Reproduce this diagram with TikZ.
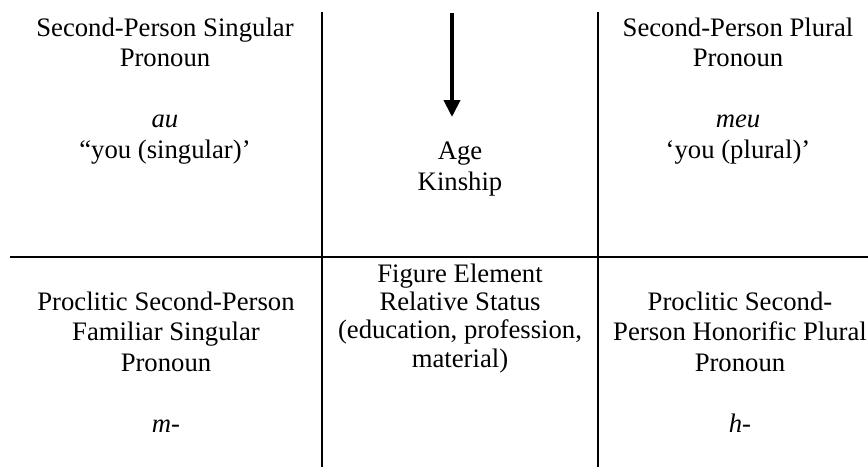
\documentclass[tikz,border=0pt]{standalone}
\usepackage{fontspec}
\setmainfont{Liberation Serif}
\usetikzlibrary{arrows.meta}
\begin{document}
\begin{tikzpicture}[x=1pt,y=-1pt,
  rule/.style={line width=2pt},
  bigarrow/.style={line width=4pt,-{Triangle[length=17pt,width=16pt]}},
  celltext/.style={align=center,anchor=base,inner sep=0pt,font=\fontsize{26.7}{30.5}\selectfont},
  midtext/.style={align=center,anchor=base,inner sep=0pt,font=\fontsize{26.7}{28.3}\selectfont},
  ]
\useasboundingbox (0,0) rectangle (868,467);
% divider end points
\coordinate (v1t) at (322,12);
\coordinate (v1b) at (322,467);
\coordinate (v2t) at (598,12);
\coordinate (v2b) at (598,467);
\coordinate (hl) at (10,257);
\coordinate (hr) at (868,257);
\draw[rule] (v1t) -- (v1b);
\draw[rule] (v2t) -- (v2b);
\draw[rule] (hl) -- (hr);
% arrow
\coordinate (arrtop) at (452,13);
\coordinate (arrend) at (452,117);
\draw[bigarrow] (arrtop) -- (arrend);
% cell texts (base anchor = baseline of last line)
\node[celltext] (tl) at (165,158) {Second-Person Singular\\Pronoun\\[30.5pt]\textit{au}\\“you (singular)’};
\node[celltext] (tm) at (460,190) {Age\\Kinship};
\node[celltext] (tr) at (738,158) {Second-Person Plural\\Pronoun\\[30.5pt]\textit{meu}\\‘you (plural)’};
\node[celltext] (bl) at (166,432) {Proclitic Second-Person\\Familiar Singular\\Pronoun\\[30.5pt]\textit{m-}};
\node[midtext] (bm) at (460,367) {Figure Element\\Relative Status\\(education, profession,\\material)};
\node[celltext] (br) at (740,432) {Proclitic Second-\\Person Honorific Plural\\Pronoun\\[30.5pt]\textit{h-}};
\end{tikzpicture}
\end{document}
